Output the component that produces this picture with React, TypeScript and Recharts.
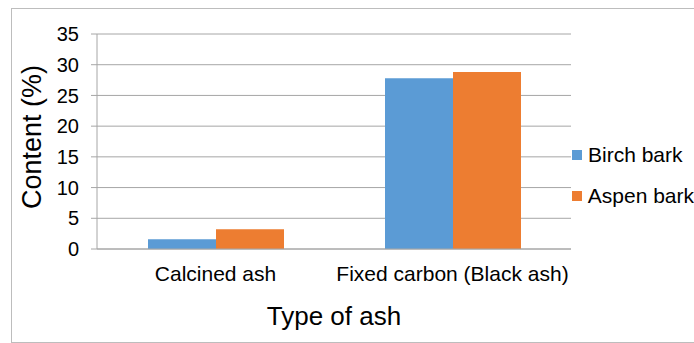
import { BarChart, Bar, XAxis, YAxis, CartesianGrid, Legend, Label } from 'recharts';

const categories = ['Calcined ash', 'Fixed carbon (Black ash)'];
const birchBark = [1.6, 27.8];
const aspenBark = [3.2, 28.8];
const yTicks = [0, 5, 10, 15, 20, 25, 30, 35];

const seriesNames = ['Birch bark', 'Aspen bark'];
const seriesColors = ['#5b9bd5', '#ed7d31'];

const data = categories.map((type, i) => ({
  type,
  birch: birchBark[i],
  aspen: aspenBark[i],
}));

const FONT = '"Liberation Sans", Arial, sans-serif';
const GRID = '#a6a6a6';

function YTitle(props: any) {
  const { viewBox } = props;
  const x = viewBox.x + 41;
  const cy = viewBox.y + viewBox.height / 2 - 4.5;
  return (
    <text x={x} y={cy} transform={`rotate(-90, ${x}, ${cy})`} textAnchor="middle" fontSize={27} fill="#000">
      Content (%)
    </text>
  );
}

function XTitle(props: any) {
  const { viewBox } = props;
  return (
    <text x={viewBox.x + viewBox.width / 2} y={viewBox.y + 76} textAnchor="middle" fontSize={26} fill="#000">
      Type of ash
    </text>
  );
}

// keep the legend in series order instead of alphabetical
function LegendBox(props: any) {
  const items = [...(props.payload || [])].sort(
    (a: any, b: any) => seriesNames.indexOf(a.value) - seriesNames.indexOf(b.value),
  );
  return (
    <div>
      {items.map((entry: any) => (
        <div key={entry.value} style={{ display: 'flex', alignItems: 'center', height: 41, whiteSpace: 'nowrap' }}>
          <span style={{ width: 10, height: 10, background: entry.color, display: 'inline-block', marginRight: 6 }} />
          <span style={{ fontSize: 21, color: '#000' }}>{entry.value}</span>
        </div>
      ))}
    </div>
  );
}

export default function App() {
  return (
    <div
      style={{
        position: 'absolute',
        left: 0,
        top: 0,
        width: 694,
        height: 343,
        overflow: 'hidden',
        background: '#fff',
        fontFamily: FONT,
      }}
    >
      <div
        style={{
          position: 'absolute',
          left: 11,
          top: 8,
          width: 720,
          height: 333,
          border: '1px solid #bdbdbd',
        }}
      />
      <BarChart
        width={694}
        height={343}
        data={data}
        margin={{ top: 34, right: 123, left: 0, bottom: 0 }}
        barCategoryGap={51}
        barGap={0}
      >
        <CartesianGrid vertical={false} stroke={GRID} />
        <XAxis
          dataKey="type"
          height={94}
          tickLine={false}
          tickSize={0}
          tickMargin={17}
          axisLine={{ stroke: GRID }}
          tick={{ fontSize: 21, fill: '#000' }}
          interval={0}
        >
          <Label content={<XTitle />} />
        </XAxis>
        <YAxis
          width={97}
          domain={[0, 35]}
          ticks={yTicks}
          tickSize={6}
          tickMargin={12}
          tickLine={{ stroke: GRID }}
          axisLine={{ stroke: GRID }}
          tick={{ fontSize: 20, fill: '#000' }}
        >
          <Label content={<YTitle />} />
        </YAxis>
        <Legend
          layout="horizontal"
          verticalAlign="middle"
          content={<LegendBox />}
          wrapperStyle={{ left: 572, top: 134, width: 122 }}
        />
        <Bar dataKey="birch" name={seriesNames[0]} fill={seriesColors[0]} isAnimationActive={false} />
        <Bar dataKey="aspen" name={seriesNames[1]} fill={seriesColors[1]} isAnimationActive={false} />
      </BarChart>
    </div>
  );
}
